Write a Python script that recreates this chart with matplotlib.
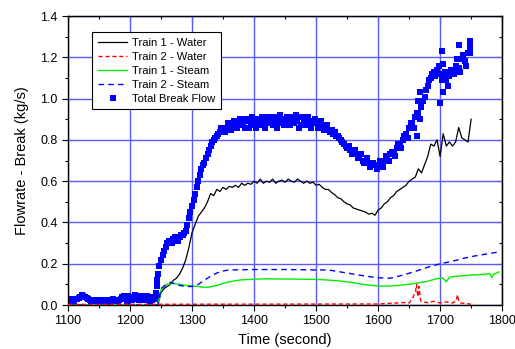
import numpy as np
import matplotlib
matplotlib.use("Agg")
import matplotlib.pyplot as plt
from matplotlib.ticker import MultipleLocator

plt.rcParams['font.family'] = ['Liberation Sans', 'DejaVu Sans']

# Total break flow, sampled every 5 s from 1100 to 1745
total_t = np.arange(1100, 1750, 5)
total_v = [
    0.02, 0.025, 0.02, 0.03, 0.04, 0.045, 0.035, 0.025, 0.02, 0.022,
    0.02, 0.018, 0.022, 0.025, 0.02, 0.025, 0.02, 0.03, 0.045, 0.02,
    0.04, 0.03, 0.045, 0.025, 0.04, 0.03, 0.04, 0.025, 0.03, 0.15,
    0.22, 0.26, 0.30, 0.31, 0.32, 0.32, 0.33, 0.34, 0.36, 0.42,
    0.48, 0.54, 0.60, 0.66, 0.69, 0.73, 0.77, 0.80, 0.82, 0.84,
    0.85, 0.86, 0.87, 0.86, 0.88, 0.87, 0.88, 0.86, 0.89, 0.87,
    0.88, 0.90, 0.87, 0.89, 0.88, 0.90, 0.87, 0.89, 0.88, 0.90,
    0.87, 0.89, 0.91, 0.88, 0.89, 0.87, 0.90, 0.88, 0.89, 0.88,
    0.88, 0.87, 0.87, 0.86, 0.85, 0.85, 0.84, 0.82, 0.80, 0.78,
    0.76, 0.75, 0.74, 0.73, 0.72, 0.70, 0.70, 0.69, 0.68, 0.68,
    0.68, 0.69, 0.70, 0.71, 0.73, 0.74, 0.76, 0.78, 0.80, 0.83,
    0.86, 0.88, 0.91, 0.93, 0.96, 1.01, 1.06, 1.10, 1.13, 1.14,
    1.12, 1.10, 1.09, 1.11, 1.14, 1.16, 1.15, 1.19, 1.18, 1.22,
]
# samples in between (1102.5 ... 1747.5), the other side of the scatter band
total_mid_t = np.arange(1102.5, 1750, 5)
total_mid_v = [
    0.03, 0.015, 0.03, 0.035, 0.05, 0.04, 0.03, 0.02, 0.025, 0.015,
    0.025, 0.02, 0.015, 0.02, 0.03, 0.02, 0.025, 0.04, 0.03, 0.045,
    0.025, 0.05, 0.03, 0.045, 0.025, 0.045, 0.02, 0.04, 0.03, 0.19,
    0.24, 0.28, 0.31, 0.30, 0.33, 0.31, 0.34, 0.35, 0.39, 0.45,
    0.51, 0.57, 0.63, 0.68, 0.71, 0.75, 0.79, 0.81, 0.83, 0.86,
    0.84, 0.88, 0.85, 0.89, 0.86, 0.90, 0.87, 0.90, 0.86, 0.91,
    0.86, 0.89, 0.91, 0.86, 0.91, 0.88, 0.91, 0.86, 0.92, 0.87,
    0.91, 0.87, 0.89, 0.92, 0.86, 0.91, 0.87, 0.91, 0.86, 0.90,
    0.86, 0.89, 0.85, 0.87, 0.84, 0.83, 0.82, 0.81, 0.79, 0.77,
    0.77, 0.73, 0.75, 0.71, 0.73, 0.69, 0.71, 0.67, 0.69, 0.66,
    0.70, 0.67, 0.72, 0.70, 0.74, 0.72, 0.78, 0.76, 0.82, 0.81,
    0.88, 0.86, 0.93, 0.90, 0.99, 1.04, 1.09, 1.12, 1.11, 1.16,
    1.09, 1.13, 1.06, 1.14, 1.12, 1.19, 1.13, 1.21, 1.16, 1.25,
]
# rising edge at break opening and scattered points off the main band
extra_t = [1242, 1243, 1244, 1662, 1664, 1667, 1700, 1703, 1704, 1704, 1730, 1748, 1748]
extra_v = [0.06, 0.09, 0.12, 0.82, 0.99, 1.03, 0.98, 1.23, 1.17, 1.03, 1.26, 1.28, 1.22]

# Train 1 - Water, every 5 s from 1245 to 1750
water1_t = np.arange(1245, 1755, 5)
water1_v = [
    0.0, 0.06, 0.08, 0.09, 0.10, 0.12, 0.13, 0.15, 0.18, 0.22,
    0.28, 0.35, 0.39, 0.43, 0.45, 0.47, 0.50, 0.54, 0.53, 0.56,
    0.55, 0.57, 0.56, 0.575, 0.57, 0.58, 0.57, 0.59, 0.58, 0.59,
    0.585, 0.60, 0.59, 0.61, 0.59, 0.60, 0.595, 0.61, 0.59, 0.60,
    0.605, 0.595, 0.61, 0.60, 0.595, 0.61, 0.60, 0.59, 0.60, 0.59,
    0.595, 0.58, 0.585, 0.57, 0.56, 0.56, 0.545, 0.535, 0.52, 0.515,
    0.50, 0.49, 0.485, 0.47, 0.465, 0.46, 0.455, 0.45, 0.44, 0.445,
    0.435, 0.46, 0.47, 0.49, 0.50, 0.52, 0.53, 0.55, 0.56, 0.57,
    0.58, 0.60, 0.61, 0.62, 0.66, 0.64, 0.68, 0.72, 0.78, 0.77,
    0.80, 0.72, 0.83, 0.77, 0.79, 0.77, 0.79, 0.86, 0.81, 0.80,
    0.79, 0.90,
]

# Train 2 - Water
water2_t = [1100, 1600, 1620, 1640, 1650, 1655, 1660, 1662, 1664, 1666, 1668,
            1670, 1680, 1690, 1700, 1710, 1720, 1726, 1728, 1730, 1732, 1740, 1750]
water2_v = [0.003, 0.005, 0.008, 0.012, 0.01, 0.03, 0.06, 0.10, 0.04, 0.09, 0.03,
            0.015, 0.012, 0.018, 0.01, 0.015, 0.01, 0.02, 0.05, 0.02, 0.01, 0.008, 0.004]

# Train 1 - Steam
steam1_t = [1100, 1245, 1250, 1255, 1260, 1270, 1280, 1290, 1300, 1310, 1320, 1330,
            1340, 1350, 1360, 1370, 1380, 1400, 1420, 1440, 1460, 1480, 1500, 1520,
            1540, 1560, 1580, 1600, 1620, 1640, 1660, 1680, 1695, 1705, 1710, 1715,
            1730, 1750, 1770, 1780, 1783, 1787, 1795]
steam1_v = [0.0, 0.0, 0.075, 0.095, 0.10, 0.105, 0.10, 0.095, 0.092, 0.09, 0.085, 0.088,
            0.095, 0.105, 0.112, 0.118, 0.122, 0.125, 0.127, 0.126, 0.126, 0.125, 0.124, 0.121,
            0.116, 0.108, 0.098, 0.092, 0.092, 0.097, 0.105, 0.115, 0.128, 0.13, 0.112, 0.135,
            0.14, 0.145, 0.148, 0.153, 0.133, 0.15, 0.16]

# Train 2 - Steam
steam2_t = [1100, 1245, 1250, 1260, 1265, 1270, 1280, 1290, 1300, 1310, 1320, 1330,
            1340, 1350, 1360, 1400, 1450, 1500, 1520, 1540, 1560, 1580, 1600, 1620,
            1640, 1660, 1680, 1700, 1720, 1740, 1760, 1780, 1795]
steam2_v = [0.0, 0.0, 0.08, 0.10, 0.11, 0.105, 0.095, 0.09, 0.09, 0.10, 0.12, 0.14,
            0.155, 0.165, 0.17, 0.172, 0.172, 0.17, 0.17, 0.16, 0.15, 0.14, 0.132, 0.13,
            0.145, 0.163, 0.183, 0.20, 0.212, 0.228, 0.24, 0.25, 0.257]

GRID = '#5a5aff'

fig = plt.figure(figsize=(5.15, 3.49), dpi=100)
ax = fig.add_axes([0.132, 0.126, 0.843, 0.828])

all_t = list(total_t) + list(total_mid_t) + extra_t
all_v = total_v + total_mid_v + extra_v
ax.plot(all_t, all_v, 's', color='#0000ff',
        markersize=5.0, markeredgewidth=0, zorder=2, label='Total Break Flow')
ax.plot(water1_t, water1_v, color='black', lw=0.9, zorder=3, label='Train 1 - Water')
ax.plot(water2_t, water2_v, color='red', lw=1.0, dashes=(3, 2), zorder=4,
        clip_on=False, label='Train 2 - Water')
ax.plot(steam1_t, steam1_v, color='#00ee00', lw=1.0, zorder=3, label='Train 1 - Steam')
ax.plot(steam2_t, steam2_v, color='#0000ff', lw=1.0, dashes=(4, 3), zorder=3,
        label='Train 2 - Steam')

ax.set_xlim(1100, 1800)
ax.set_ylim(0, 1.4)
ax.xaxis.set_major_locator(MultipleLocator(100))
ax.xaxis.set_minor_locator(MultipleLocator(50))
ax.yaxis.set_major_locator(MultipleLocator(0.2))
ax.yaxis.set_minor_locator(MultipleLocator(0.1))
ax.yaxis.set_major_formatter(plt.FormatStrFormatter('%.1f'))

ax.set_axisbelow(True)
ax.grid(True, which='major', color=GRID, lw=1.0)
ax.tick_params(which='major', direction='out', length=4, width=0.8, labelsize=9)
ax.tick_params(which='minor', direction='out', length=2.5, width=0.8)
for s in ax.spines.values():
    s.set_linewidth(1.0)

# inward ticks on top and right
top = ax.secondary_xaxis('top')
top.xaxis.set_major_locator(MultipleLocator(100))
top.xaxis.set_minor_locator(MultipleLocator(50))
top.tick_params(which='both', direction='in', labeltop=False, width=0.8)
top.tick_params(which='major', length=4)
top.tick_params(which='minor', length=2.5)
right = ax.secondary_yaxis('right')
right.yaxis.set_major_locator(MultipleLocator(0.2))
right.yaxis.set_minor_locator(MultipleLocator(0.1))
right.tick_params(which='both', direction='in', labelright=False, width=0.8)
right.tick_params(which='major', length=4)
right.tick_params(which='minor', length=2.5)

ax.set_xlabel('Time (second)', fontsize=10.5, labelpad=4)
ax.set_ylabel('Flowrate - Break (kg/s)', fontsize=10.5, labelpad=8)

handles, labels = ax.get_legend_handles_labels()
order = [1, 2, 3, 4, 0]
leg = ax.legend([handles[i] for i in order], [labels[i] for i in order],
                loc='upper left', bbox_to_anchor=(0.056, 0.945), fontsize=8.1,
                frameon=True, fancybox=False, framealpha=1, edgecolor='black',
                handlelength=2.6, labelspacing=0.36, borderpad=0.5,
                handletextpad=0.4, borderaxespad=0, markerscale=0.85)
leg.get_frame().set_linewidth(0.8)

fig.savefig('out.png', dpi=100)
